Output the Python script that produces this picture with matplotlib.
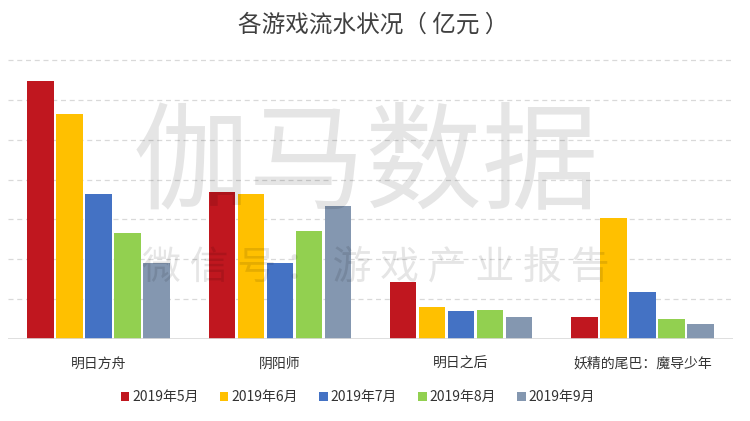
import matplotlib
matplotlib.use("Agg")
import matplotlib.pyplot as plt
import numpy as np

plt.rcParams['font.family'] = ['Noto Sans CJK SC', 'DejaVu Sans']

games = ["明日方舟", "阴阳师", "明日之后", "妖精的尾巴：魔导少年"]
months = ["2019年5月", "2019年6月", "2019年7月", "2019年8月", "2019年9月"]
may = [12.95, 7.35, 2.84, 1.10]
jun = [11.30, 7.29, 1.62, 6.08]
jul = [7.25, 3.80, 1.42, 2.35]
aug = [5.30, 5.42, 1.48, 1.00]
sep = [3.80, 6.65, 1.10, 0.75]
series = [may, jun, jul, aug, sep]
colors = ["#C0171F", "#FFC000", "#4472C4", "#92D050", "#8497B0"]

fig = plt.figure(figsize=(7.5, 4.21), dpi=100)
ax = fig.add_axes([8/750, 1-339/421, 725/750, (339-45)/421])

x = np.arange(len(games))
step = 0.16
width = 0.145
for i, (vals, c, lab) in enumerate(zip(series, colors, months)):
    ax.bar(x + (i - 2) * step, vals, width=width, color=c, label=lab, zorder=2)

ax.set_xlim(-0.5, 3.5)
ax.set_ylim(0, 14.75)
ax.set_yticks(np.arange(0, 15, 2))
for y in np.arange(2, 15, 2):
    ax.axhline(y, color="#D9D9D9", lw=0.9, ls=(0, (4, 3)), zorder=1)
ax.axhline(0, color="#D9D9D9", lw=1.2, zorder=3)
for s in ax.spines.values():
    s.set_visible(False)
ax.tick_params(left=False, labelleft=False, bottom=False)
ax.set_xticks(x)
ax.set_xticklabels(games, fontsize=10, color="#333333")
ax.tick_params(axis='x', pad=9)

fig.text(373/750, 1-25/421, "各游戏流水状况（ 亿元 ）", ha="center", va="center",
         fontsize=17, color="#404040")

# watermark
fig.text(366/750, 1-166/421, "伽马数据", ha="center", va="center", fontsize=84,
         fontweight="light", color="#000000", alpha=0.10, zorder=10)
fig.text(376/750, 1-268/421, "微 信 号 ： 游 戏 产 业 报 告", ha="center", va="center",
         fontsize=28, fontweight="light", color="#000000", alpha=0.10, zorder=10)

leg = fig.legend(loc="center", bbox_to_anchor=(358/750, 1-397/421), ncol=5, frameon=False,
                 fontsize=10, handlelength=0.6, handleheight=0.6, handletextpad=0.2,
                 columnspacing=1.55)
for t in leg.get_texts():
    t.set_color("#333333")

fig.savefig("out.png", dpi=100)
